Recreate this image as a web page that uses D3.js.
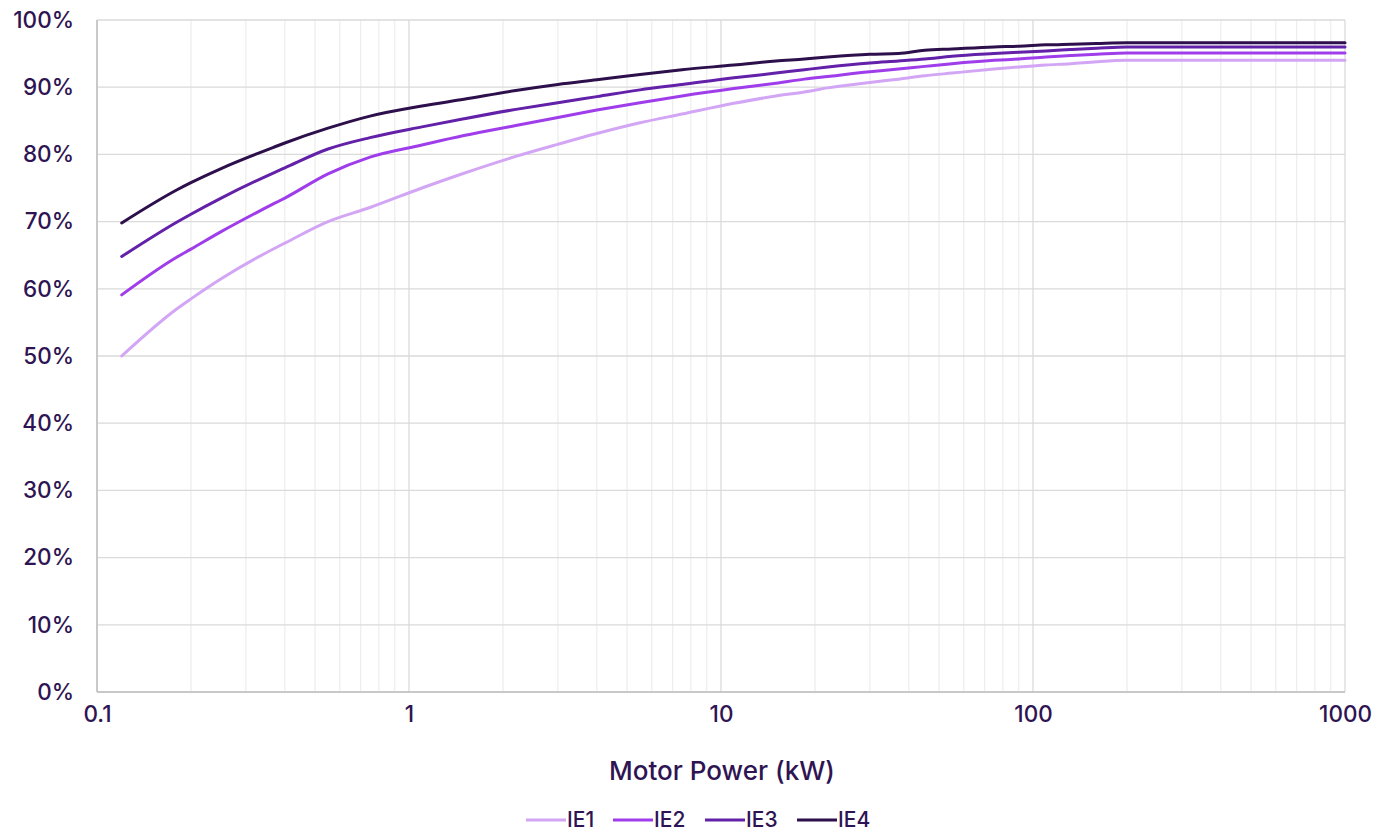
<!DOCTYPE html>
<html>
<head>
<meta charset="utf-8">
<script src="https://cdn.jsdelivr.net/npm/d3@7"></script>
<style>
  html, body { margin: 0; padding: 0; background: #ffffff; }
  svg { display: block; }
  text { font-family: Inter, Lato, "Noto Sans", sans-serif; font-weight: 500; fill: #2e1452; }
</style>
</head>
<body>
<svg id="chart" width="1391" height="831"></svg>
<script>
// Motor power (kW)
const powers = [0.12, 0.18, 0.2, 0.25, 0.37, 0.4, 0.55, 0.75, 1.1, 1.5, 2.2, 3, 4, 5.5, 7.5, 11, 15, 18.5, 22, 30, 37, 45, 55, 75, 90, 110, 132, 160, 200, 1000];
// Efficiency (%) per class
const ie1 = [50.0, 57.0, 58.5, 61.5, 66.0, 66.8, 70.0, 72.1, 75.0, 77.2, 79.7, 81.5, 83.1, 84.7, 86.0, 87.6, 88.7, 89.3, 89.9, 90.7, 91.2, 91.7, 92.1, 92.7, 93.0, 93.3, 93.5, 93.8, 94.0, 94.0];
const ie2 = [59.1, 64.7, 65.9, 68.5, 72.7, 73.5, 77.1, 79.6, 81.4, 82.8, 84.3, 85.5, 86.6, 87.7, 88.7, 89.8, 90.6, 91.2, 91.6, 92.3, 92.7, 93.1, 93.5, 94.0, 94.2, 94.5, 94.7, 94.9, 95.1, 95.1];
const ie3 = [64.8, 69.9, 71.1, 73.5, 77.3, 78.0, 80.8, 82.5, 84.1, 85.3, 86.7, 87.7, 88.6, 89.6, 90.4, 91.4, 92.1, 92.6, 93.0, 93.6, 93.9, 94.2, 94.6, 95.0, 95.2, 95.4, 95.6, 95.8, 96.0, 96.0];
const ie4 = [69.8, 74.7, 75.8, 77.9, 81.1, 81.7, 83.9, 85.7, 87.2, 88.2, 89.5, 90.4, 91.1, 91.9, 92.6, 93.3, 93.9, 94.2, 94.5, 94.9, 95.0, 95.5, 95.7, 96.0, 96.1, 96.3, 96.4, 96.5, 96.6, 96.6];

const seriesNames = ["IE1", "IE2", "IE3", "IE4"];
const seriesColors = ["#d2a6f5", "#9f3deb", "#6320a8", "#2c0f4b"];
const xTickValues = [0.1, 1, 10, 100, 1000];
const xTickLabels = ["0.1", "1", "10", "100", "1000"];
const yTickValues = [0, 10, 20, 30, 40, 50, 60, 70, 80, 90, 100];

const seriesData = [ie1, ie2, ie3, ie4];

const svg = d3.select("#chart");
const margin = { left: 97, right: 46, top: 20, bottom: 139 };
const W = 1391, H = 831;

const x = d3.scaleLog().domain([0.1, 1000]).range([margin.left, W - margin.right]);
const y = d3.scaleLinear().domain([0, 100]).range([H - margin.bottom, margin.top]);

// minor vertical grid
const minor = [];
for (let d = 0.1; d < 1000; d *= 10) {
  for (let k = 2; k <= 9; k++) minor.push(+(d * k).toPrecision(3));
}
svg.append("g").selectAll("line").data(minor).join("line")
  .attr("x1", d => x(d)).attr("x2", d => x(d))
  .attr("y1", y(0)).attr("y2", y(100))
  .attr("stroke", "#eeeeee").attr("stroke-width", 1.3);

// horizontal grid
svg.append("g").selectAll("line").data(yTickValues).join("line")
  .attr("x1", x(0.1)).attr("x2", x(1000))
  .attr("y1", d => y(d)).attr("y2", d => y(d))
  .attr("stroke", "#dadada").attr("stroke-width", 1.3);

// major vertical grid
svg.append("g").selectAll("line").data(xTickValues).join("line")
  .attr("x1", d => x(d)).attr("x2", d => x(d))
  .attr("y1", y(0)).attr("y2", y(100))
  .attr("stroke", "#dadada").attr("stroke-width", 1.3);

// axes lines
svg.append("line").attr("x1", x(0.1)).attr("x2", x(0.1)).attr("y1", y(0)).attr("y2", y(100))
  .attr("stroke", "#bfbfbf").attr("stroke-width", 1.5);
svg.append("line").attr("x1", x(0.1)).attr("x2", x(1000)).attr("y1", y(0)).attr("y2", y(0))
  .attr("stroke", "#bfbfbf").attr("stroke-width", 1.5);

// y axis labels
const yAxis = d3.axisLeft(y).tickValues(yTickValues).tickSize(0).tickPadding(23).tickFormat(d => d + "%");
const gy = svg.append("g").attr("transform", `translate(${margin.left},0)`).call(yAxis);
gy.select(".domain").remove();
gy.selectAll("text").style("font-size", "22.5px").attr("fill", "#2e1452");

// x axis labels
const xAxis = d3.axisBottom(x).tickValues(xTickValues).tickSize(0).tickPadding(14)
  .tickFormat((d, i) => xTickLabels[i]);
const gx = svg.append("g").attr("transform", `translate(0,${y(0)})`).call(xAxis);
gx.select(".domain").remove();
gx.selectAll("text").style("font-size", "22.5px").attr("fill", "#2e1452");
gy.attr("font-family", null); gx.attr("font-family", null);

// axis title
svg.append("text").attr("x", 722).attr("y", 780).attr("text-anchor", "middle")
  .style("font-size", "26px").text("Motor Power (kW)");

// lines
const line = d3.line().x((d, i) => x(powers[i])).y(d => y(d)).curve(d3.curveMonotoneX);
seriesData.forEach((s, k) => {
  svg.append("path").datum(s).attr("d", line)
    .attr("fill", "none").attr("stroke", seriesColors[k]).attr("stroke-width", 3)
    .attr("stroke-linecap", "round").attr("stroke-linejoin", "round");
});

// legend
const legendX = [526, 613, 705, 797];
const lg = svg.append("g");
seriesNames.forEach((n, k) => {
  lg.append("line").attr("x1", legendX[k]).attr("x2", legendX[k] + 40)
    .attr("y1", 820).attr("y2", 820)
    .attr("stroke", seriesColors[k]).attr("stroke-width", 3);
  lg.append("text").attr("x", legendX[k] + 41).attr("y", 827)
    .style("font-size", "21px").text(n);
});
</script>
</body>
</html>
